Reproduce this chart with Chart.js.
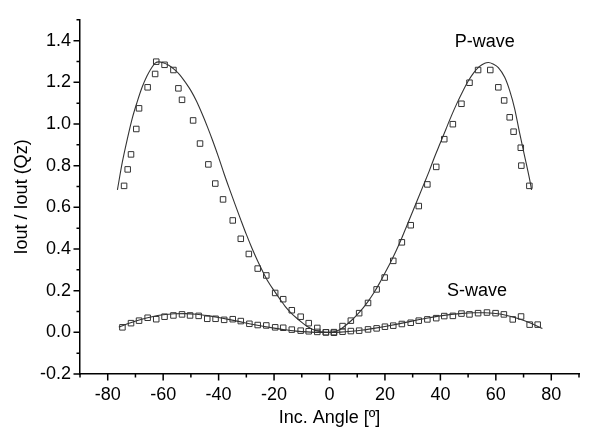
<!DOCTYPE html>
<html>
<head>
<meta charset="utf-8">
<script src="https://cdn.jsdelivr.net/npm/chart.js@4.4.1/dist/chart.umd.min.js"></script>
<style>
  html, body { margin: 0; padding: 0; background: #fff; }
  #wrap { width: 589px; height: 432px; position: relative; }
</style>
</head>
<body>
<div id="wrap"><canvas id="chart"></canvas></div>
<script>
// measured points (squares)
var pWaveX = [-74.1, -72.8, -71.6, -69.7, -68.7, -65.6, -62.9, -62.5, -59.5, -56.3, -54.5, -53.2, -49.2, -46.7, -43.7, -41.2, -38.4, -34.9, -32.0, -29.1, -25.9, -22.8, -19.6, -16.7, -13.6, -10.4, -7.5, -4.4, -1.3,
              1.6, 4.7, 7.7, 10.7, 13.9, 17.0, 19.9, 23.0, 26.1, 29.3, 32.2, 35.3, 38.5, 41.4, 44.5, 47.6, 50.5, 53.6, 58.0, 60.9, 63.0, 65.0, 66.4, 69.0, 69.2, 72.1];
var pWaveY = [0.703, 0.782, 0.854, 0.976, 1.075, 1.176, 1.240, 1.299, 1.284, 1.259, 1.171, 1.116, 1.017, 0.906, 0.806, 0.714, 0.638, 0.537, 0.449, 0.376, 0.306, 0.273, 0.189, 0.159, 0.106, 0.075, 0.044, 0.021, 0.000,
              0.001, 0.030, 0.056, 0.092, 0.141, 0.206, 0.263, 0.343, 0.432, 0.514, 0.606, 0.710, 0.794, 0.927, 0.999, 1.097, 1.198, 1.259, 1.259, 1.176, 1.113, 1.032, 0.963, 0.886, 0.800, 0.703];

var sWaveX = [-74.7, -71.6, -68.7, -65.6, -62.5, -59.5, -56.3, -53.2, -50.3, -47.2, -44.1, -41.1, -38.0, -34.9, -32.0, -28.9, -25.9, -22.8, -19.6, -16.7, -13.6, -10.4, -7.5, -4.4, -1.3,
              1.6, 4.7, 7.7, 10.7, 13.9, 17.0, 20.0, 23.0, 26.1, 29.3, 32.2, 35.3, 38.5, 41.4, 44.5, 47.6, 50.5, 53.6, 56.8, 59.9, 62.9, 66.1, 69.1, 72.2, 75.1];
var sWaveY = [0.024, 0.044, 0.056, 0.070, 0.063, 0.075, 0.081, 0.086, 0.081, 0.079, 0.065, 0.065, 0.060, 0.063, 0.054, 0.041, 0.035, 0.033, 0.024, 0.022, 0.013, 0.008, 0.005, 0.002, 0.000,
              -0.002, 0.003, 0.006, 0.008, 0.014, 0.019, 0.027, 0.032, 0.040, 0.046, 0.056, 0.062, 0.068, 0.078, 0.079, 0.090, 0.086, 0.092, 0.095, 0.092, 0.086, 0.062, 0.076, 0.037, 0.037];

// fitted curves (solid lines)
var pFitX = [-76.5, -74.7, -72.9, -71.2, -69.4, -67.6, -65.8, -64.1, -62.9, -61.5, -60, -58, -56, -54, -52, -50, -48, -46, -44, -42, -40, -38, -36, -34, -32, -30,
             -28, -26, -24, -22, -20, -18, -16, -14, -12, -10, -8, -6, -4, -2, 0,
             2, 4, 6, 8, 10, 12, 14, 16, 18, 20, 22, 24, 26, 28, 30, 32, 34, 36, 38, 40, 42, 44, 46, 48, 50, 52, 54, 56, 57.3,
             59, 60.9, 63.2, 65.0, 66.8, 68.5, 70.3, 72.1, 72.9];
var pFitY = [0.684, 0.819, 0.930, 1.025, 1.105, 1.176, 1.231, 1.271, 1.292, 1.298, 1.294, 1.282, 1.262, 1.236, 1.20, 1.16, 1.11, 1.05, 0.985, 0.915, 0.84, 0.76, 0.685, 0.612, 0.54, 0.47,
             0.405, 0.345, 0.29, 0.24, 0.2, 0.162, 0.125, 0.095, 0.07, 0.048, 0.028, 0.014, 0.005, 0.001, 0.0,
             0.004, 0.015, 0.035, 0.058, 0.085, 0.115, 0.15, 0.19, 0.235, 0.285, 0.335, 0.39, 0.45, 0.515, 0.58, 0.645, 0.71, 0.775, 0.845, 0.91, 0.975, 1.04, 1.10, 1.155, 1.205, 1.245, 1.275, 1.292, 1.295,
             1.288, 1.271, 1.224, 1.160, 1.073, 0.962, 0.851, 0.740, 0.684];

var sFitX = [-76, -72, -68, -64, -60, -56, -52, -48, -44, -40, -36, -32, -28, -24, -20, -16, -12, -8, -4, 0,
             4, 8, 12, 16, 20, 24, 28, 32, 36, 40, 44, 48, 52, 56, 60, 64, 68, 72, 76.8];
var sFitY = [0.025, 0.045, 0.062, 0.075, 0.084, 0.089, 0.09, 0.087, 0.08, 0.071, 0.061, 0.05, 0.039, 0.029, 0.02, 0.012, 0.006, 0.002, 0.0, 0.0,
             0.001, 0.005, 0.011, 0.019, 0.028, 0.038, 0.049, 0.06, 0.07, 0.079, 0.086, 0.091, 0.094, 0.094, 0.09, 0.081, 0.066, 0.047, 0.018];

var xTickStep = 10;
var yTickStep = 0.1;

function pts(xs, ys) {
    return xs.map(function (x, i) { return {x: x, y: ys[i]}; });
}

var ink = '#333';
var fontFamily = '"Liberation Sans", Arial, sans-serif';

// short minor / long major ticks drawn outside the axes, plus the two wave labels
var axisExtras = {
    id: 'axisExtras',
    afterDraw: function (chart) {
        var ctx = chart.ctx;
        var xs = chart.scales.x, ys = chart.scales.y;
        ctx.save();
        ctx.strokeStyle = '#000';
        ctx.lineWidth = 1.5;
        ctx.beginPath();
        xs.ticks.forEach(function (t) {
            var px = xs.getPixelForValue(t.value);
            var major = Math.round(t.value / 10) % 2 === 0;
            ctx.moveTo(px, xs.top);
            ctx.lineTo(px, xs.top + (major ? 6.5 : 3.5));
        });
        ys.ticks.forEach(function (t) {
            var py = ys.getPixelForValue(t.value);
            var major = Math.round(t.value * 10) % 2 === 0;
            ctx.moveTo(ys.right, py);
            ctx.lineTo(ys.right - (major ? 6.5 : 3.5), py);
        });
        ctx.stroke();

        ctx.fillStyle = '#000';
        ctx.font = '18px ' + fontFamily;
        ctx.textAlign = 'center';
        ctx.textBaseline = 'middle';
        ctx.fillText('P-wave', xs.getPixelForValue(56), ys.getPixelForValue(1.395));
        ctx.fillText('S-wave', xs.getPixelForValue(53.2), ys.getPixelForValue(0.2));
        ctx.restore();
    }
};

var ctx = document.getElementById('chart').getContext('2d');
new Chart(ctx, {
    type: 'scatter',
    data: {
        datasets: [
            { label: 'P fit', data: pts(pFitX, pFitY), showLine: true, borderColor: ink, borderWidth: 1.1,
              pointRadius: 0, cubicInterpolationMode: 'monotone', fill: false },
            { label: 'S fit', data: pts(sFitX, sFitY), showLine: true, borderColor: ink, borderWidth: 1.1,
              pointRadius: 0, cubicInterpolationMode: 'monotone', fill: false },
            { label: 'P-wave', data: pts(pWaveX, pWaveY), pointStyle: 'rect', pointRadius: 3.9,
              borderColor: ink, borderWidth: 1, backgroundColor: 'rgba(0,0,0,0)' },
            { label: 'S-wave', data: pts(sWaveX, sWaveY), pointStyle: 'rect', pointRadius: 3.9,
              borderColor: ink, borderWidth: 1, backgroundColor: 'rgba(0,0,0,0)' }
        ]
    },
    options: {
        animation: false,
        responsive: true,
        maintainAspectRatio: false,
        layout: { padding: { top: 16, right: 0, left: 0, bottom: 0 } },
        plugins: {
            legend: { display: false },
            tooltip: { enabled: false }
        },
        scales: {
            x: {
                type: 'linear',
                min: -90,
                max: 90,
                afterFit: function (scale) { scale.height = 58; },
                grid: { display: false, drawTicks: false },
                border: { display: true, color: '#000', width: 1.5 },
                ticks: {
                    stepSize: xTickStep,
                    autoSkip: false,
                    maxRotation: 0,
                    padding: 10,
                    color: '#000',
                    font: { family: fontFamily, size: 18 },
                    callback: function (v) {
                        return Math.round(v / 10) % 2 === 0 && Math.abs(v) < 90 ? String(v) : '';
                    }
                },
                title: {
                    display: true,
                    text: 'Inc. Angle [º]',
                    color: '#000',
                    font: { family: fontFamily, size: 18 },
                    padding: { top: 0, bottom: 3 }
                }
            },
            y: {
                type: 'linear',
                min: -0.2,
                max: 1.5,
                afterFit: function (scale) { scale.width = 80; },
                grid: { display: false, drawTicks: false },
                border: { display: true, color: '#000', width: 1.5 },
                ticks: {
                    stepSize: yTickStep,
                    autoSkip: false,
                    padding: 9,
                    color: '#000',
                    font: { family: fontFamily, size: 18 },
                    callback: function (v) {
                        var n = Math.round(v * 10);
                        return n % 2 === 0 ? (n / 10).toFixed(1) : '';
                    }
                },
                title: {
                    display: true,
                    text: 'Iout / Iout (Qz)',
                    color: '#000',
                    font: { family: fontFamily, size: 18 },
                    padding: { top: 11, bottom: 0 }
                }
            }
        }
    },
    plugins: [axisExtras]
});
</script>
</body>
</html>
